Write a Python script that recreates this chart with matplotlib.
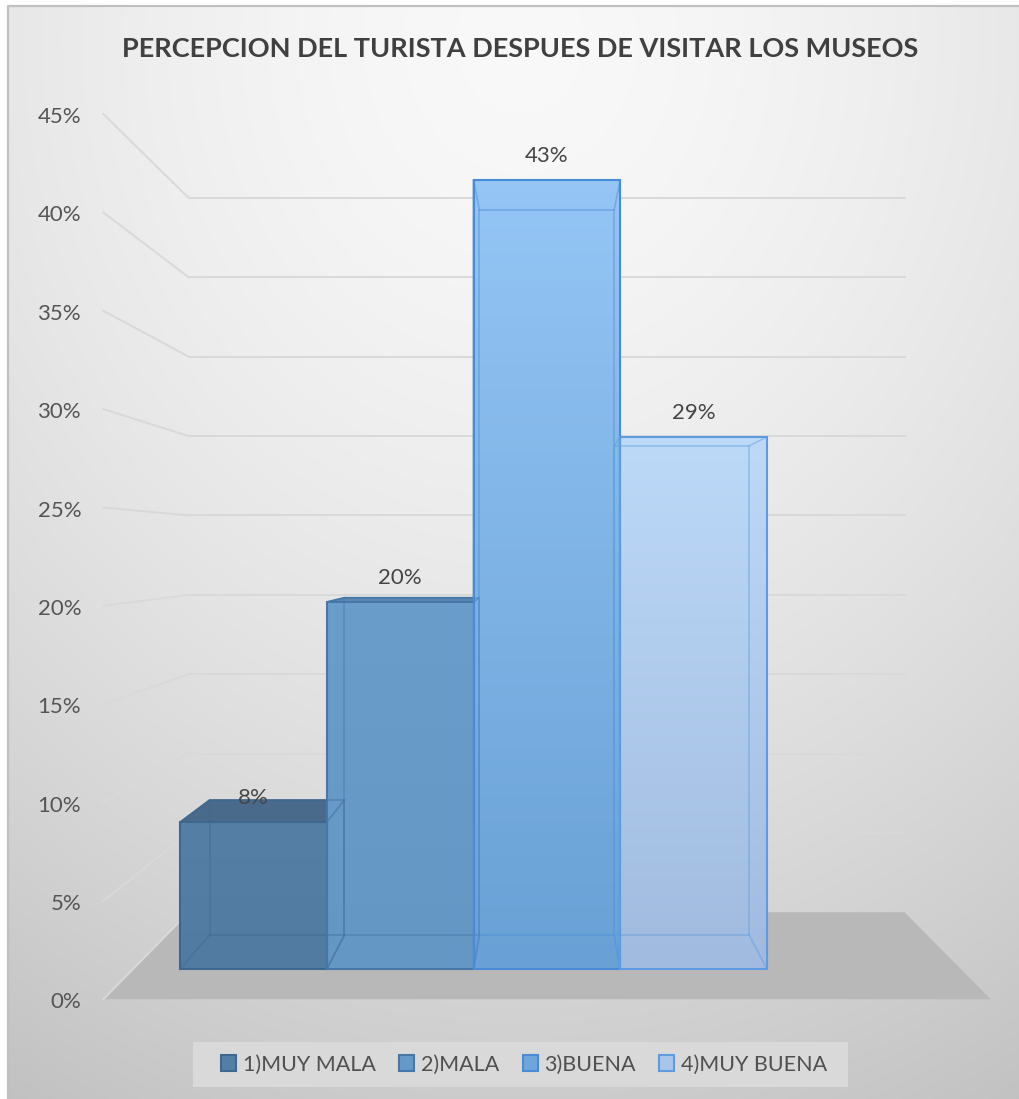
# Perception chart, 3D-style columns drawn on a flat axes with a simple perspective
import numpy as np
import matplotlib.pyplot as plt
from matplotlib.patches import Polygon, Rectangle, Patch

# Data
categorias = ['1)MUY MALA', '2)MALA', '3)BUENA', '4)MUY BUENA']
porcentajes = [8, 20, 43, 29]
ticks = [0, 5, 10, 15, 20, 25, 30, 35, 40, 45]
titulo = 'PERCEPCION DEL TURISTA DESPUES DE VISITAR LOS MUSEOS'

# Colors per series (top of front face, bottom of front face, edge, top face)
color_arriba = ['#557fa5', '#6a9dca', '#94c5f5', '#bdd9f8']
color_abajo = ['#527ba1', '#6497c4', '#69a1d6', '#a0bbdf']
color_borde = ['#3e6890', '#4677a8', '#4a8bd6', '#5e9be0']
color_tapa = ['#4a6a8b', '#5a88b3', '#8bbdef', '#b3d0f2']
color_leyenda = ['#547ea3', '#6699c6', '#6ea6dc', '#a9c6ea']

# Perspective: the front plane of the bars is the data plane, the rest
# is scaled towards the vanishing point
VX, VY = 1.99, 22.9
S_FRENTE = 1.072   # front edge of the floor / axis labels
S_FONDO = 0.919    # back face of the bars
S_PARED = 0.865    # back wall
X0, X1 = -0.82, 4.82


def proy(x, y, s):
    return (VX + s * (x - VX), VY + s * (y - VY))


plt.rcParams['font.family'] = ['Lato', 'DejaVu Sans']
fig = plt.figure(figsize=(10.19, 10.99), dpi=100)
fig.patch.set_facecolor('white')

# Background gradient (pixel units)
bg = fig.add_axes([0, 0, 1, 1])
bg.set_xlim(0, 1019)
bg.set_ylim(1099, 0)
bg.axis('off')
yy, xx = np.mgrid[0:1093, 0:1011]
r = np.hypot((xx + 8 - 520) / 1000, (yy + 6 - 40) / 1150)
g = np.clip(0.975 - 0.2 * r ** 1.6, 0, 1)
bg.imshow(np.dstack([g, g, g]), extent=(8, 1019, 1099, 6), aspect='auto', zorder=0)
bg.plot([8, 8, 1019], [1099, 6, 6], color='#c0c0c0', lw=1.6, zorder=1)
bg.add_patch(Rectangle((193, 1042), 655, 45, facecolor='#d9d9d9', edgecolor='none', zorder=1))

# Main axes
ax = fig.add_axes([0, 0, 1, 1])
ax.patch.set_alpha(0)
ax.axis('off')

# Floor
piso = [proy(X0, 0, S_FRENTE), proy(X1, 0, S_FRENTE), proy(X1, 0, S_PARED), proy(X0, 0, S_PARED)]
ax.add_patch(Polygon(piso, closed=True, facecolor='#b8b8b8', edgecolor='none', zorder=1))

# Gridlines on the back wall and the side wall
for t in ticks:
    a = proy(X0, t, S_FRENTE)
    b = proy(X0, t, S_PARED)
    c = proy(X1, t, S_PARED)
    ax.plot([a[0], b[0]], [a[1], b[1]], color='#d9d9d9', lw=1.4, zorder=2)
    if t > 0:
        ax.plot([b[0], c[0]], [b[1], c[1]], color='#d9d9d9', lw=1.4, zorder=2)
    ax.annotate(f'{t}%', a, xytext=(-16, -6.5), textcoords='offset points',
                ha='right', va='baseline', fontsize=16, color='#555555')

# Bars
for i, v in enumerate(porcentajes):
    xl, xr = i - 0.5, i + 0.5
    f = [(xl, 0), (xr, 0), (xr, v), (xl, v)]
    b = [proy(p[0], p[1], S_FONDO) for p in f]

    # outer faces
    if v < VY:
        ax.add_patch(Polygon([f[3], f[2], b[2], b[3]], facecolor=color_tapa[i],
                             edgecolor=color_borde[i], lw=1.2, zorder=3))
    if i < VX:
        lado = [f[1], f[2], b[2], b[1]]
    else:
        lado = [f[0], f[3], b[3], b[0]]
    ax.add_patch(Polygon(lado, facecolor=color_abajo[i], edgecolor=color_borde[i], lw=1.2, zorder=3))

    # front face with vertical gradient
    grad = np.linspace(0, 1, 64)[:, None, None]
    c_top = np.array(plt.matplotlib.colors.to_rgb(color_arriba[i]))
    c_bot = np.array(plt.matplotlib.colors.to_rgb(color_abajo[i]))
    ax.imshow(c_top * (1 - grad) + c_bot * grad, extent=(xl, xr, 0, v), aspect='auto', zorder=4)

    # edges of the back face seen through
    bx = [p[0] for p in b] + [b[0][0]]
    by = [p[1] for p in b] + [b[0][1]]
    ax.plot(bx, by, color=color_borde[i], lw=1.2, alpha=0.45, zorder=5)
    for p, q in zip(f, b):
        ax.plot([p[0], q[0]], [p[1], q[1]], color=color_borde[i], lw=1.2, alpha=0.45, zorder=5)

    ax.add_patch(Rectangle((xl, 0), 1, v, fill=False, edgecolor=color_borde[i], lw=1.5, zorder=6))

    ax.annotate(f'{v}%', (i, v), xytext=(0, 13), textcoords='offset points',
                ha='center', va='baseline', fontsize=16, color='#454545', zorder=7)

ax.set_xlim(-1.7266, 5.2172)
ax.set_ylim(-7.0845, 52.807)

# Title
fig.text(520.5 / 1019, 1 - 57 / 1099, titulo, ha='center', va='baseline',
         fontsize=19.5, fontweight='bold', color='#404040')

# Legend
handles = [Patch(facecolor=color_leyenda[i], edgecolor=color_borde[i], lw=1.5) for i in range(4)]
fig.legend(handles, categorias, loc='center', bbox_to_anchor=(524 / 1019, 1 - 1064.5 / 1099),
           ncol=4, frameon=False, fontsize=15.5, handlelength=0.7, handleheight=0.7,
           handletextpad=0.3, columnspacing=1.1, labelcolor='#505050')

fig.savefig('out.png', dpi=100)
